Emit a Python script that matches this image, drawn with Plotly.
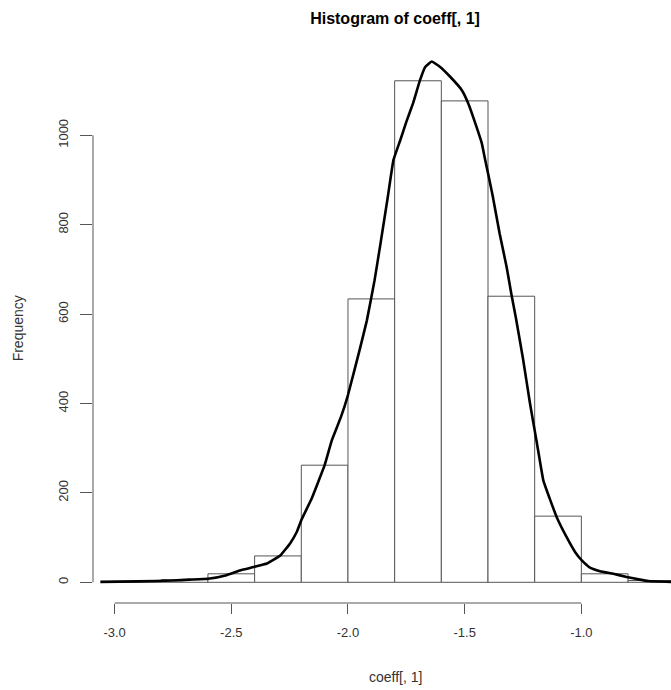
import plotly.graph_objects as go

# ---- data ----
bin_left = [-3.0, -2.8, -2.6, -2.4, -2.2, -2.0, -1.8, -1.6, -1.4, -1.2, -1.0, -0.8]
bin_width = 0.2
counts = [2, 6, 19, 59, 262, 634, 1122, 1077, 640, 148, 19, 4]

dens_x = [-3.061, -2.90, -2.75, -2.68, -2.60, -2.52, -2.46, -2.405, -2.347, -2.29,
          -2.248, -2.219, -2.20, -2.155, -2.10, -2.069, -2.03, -2.00, -1.95, -1.919,
          -1.886, -1.86, -1.83, -1.805, -1.776, -1.75, -1.721, -1.691, -1.669, -1.641,
          -1.605, -1.562, -1.512, -1.485, -1.455, -1.427, -1.412, -1.38, -1.35, -1.32,
          -1.30, -1.28, -1.25, -1.22, -1.19, -1.163, -1.134, -1.105, -1.063,
          -1.027, -0.998, -0.963, -0.92, -0.863, -0.806, -0.749, -0.713, -0.616, -0.55]
dens_y = [1, 2, 4, 6, 8, 16, 27, 34, 42, 60,
          87, 113, 139, 188, 262, 318, 370, 419, 520, 586,
          676, 760, 860, 945, 989, 1030, 1072, 1124, 1153, 1165,
          1153, 1131, 1101, 1072, 1028, 983, 945, 865, 780, 705,
          645, 590, 500, 400, 310, 228, 185, 145, 101,
          68, 49, 33, 25, 19, 12, 6, 3, 1, 0]

x_ticks = [-3.0, -2.5, -2.0, -1.5, -1.0]
x_tick_labels = ["-3.0", "-2.5", "-2.0", "-1.5", "-1.0"]
y_ticks = [0, 200, 400, 600, 800, 1000]
y_tick_labels = ["0", "200", "400", "600", "800", "1000"]

title_text = "Histogram of coeff[, 1]"
x_title = "coeff[, 1]"
y_title = "Frequency"

# ---- figure ----
W, H = 671, 690
ML, MR, MT, MB = 92.7, 0, 41, 87.3
FONT = "Liberation Sans, Arial, sans-serif"
AXC = "#555555"
TXT = "#333333"

centers = [b + bin_width / 2 for b in bin_left]

fig = go.Figure()
fig.add_trace(go.Bar(
    x=centers, y=counts, width=[bin_width] * len(counts),
    marker=dict(color="white", line=dict(color="#555555", width=1)),
    hoverinfo="x+y", showlegend=False,
))
fig.add_trace(go.Scatter(
    x=dens_x, y=dens_y, mode="lines",
    line=dict(color="black", width=2.6, shape="spline", smoothing=0.3),
    showlegend=False, hoverinfo="skip",
))

x_range = [-3.0925, -0.6159]
y_range = [-46.3, 1211]

PCX = (394.9 - ML) / (W - ML)
PH = H - MT - MB

fig.update_layout(
    width=W, height=H,
    margin=dict(l=ML, r=MR, t=MT, b=MB, pad=0, autoexpand=False),
    paper_bgcolor="white", plot_bgcolor="white",
    font=dict(family=FONT, size=13, color=TXT),
    title=dict(text=title_text, x=PCX, xref="paper",
               xanchor="center", y=1 - 18 / H, yref="container", yanchor="middle",
               font=dict(family=FONT, size=16, color="black", weight="bold")),
    xaxis=dict(range=x_range, showgrid=False, zeroline=False, showline=False,
               automargin=False,
               tickmode="array", tickvals=x_ticks, ticktext=x_tick_labels,
               ticks="outside", ticklen=10, tickcolor=AXC, tickwidth=1,
               ticklabelstandoff=7,
               tickfont=dict(family=FONT, size=13, color=TXT), fixedrange=True),
    yaxis=dict(range=y_range, showgrid=False, zeroline=False, showline=False,
               automargin=False,
               tickmode="array", tickvals=y_ticks, ticktext=y_tick_labels,
               ticks="outside", ticklen=12, tickcolor=AXC, tickwidth=1,
               tickangle=-90, ticklabelstandoff=7,
               tickfont=dict(family=FONT, size=13, color=TXT), fixedrange=True),
    shapes=[
        dict(type="line", xref="x", yref="paper", x0=x_ticks[0], x1=x_ticks[-1],
             y0=0, y1=0, line=dict(color=AXC, width=1)),
        dict(type="line", xref="paper", yref="y", x0=0, x1=0,
             y0=y_ticks[0], y1=y_ticks[-1], line=dict(color=AXC, width=1)),
    ],
    annotations=[
        dict(text=x_title, xref="paper", yref="paper",
             x=PCX, y=-(677 - (H - MB)) / PH,
             xanchor="center", yanchor="middle", showarrow=False,
             font=dict(family=FONT, size=14, color=TXT)),
        dict(text=y_title, xref="paper", yref="paper",
             x=-(ML - 18) / (W - ML), y=0.5 - (328 - 322) / PH,
             xanchor="center", yanchor="middle", showarrow=False, textangle=-90,
             font=dict(family=FONT, size=14, color=TXT)),
    ],
)

fig.write_html("out.html",
               config={"displayModeBar": False},
               post_script="document.body.style.margin='0';document.body.style.padding='0';")
